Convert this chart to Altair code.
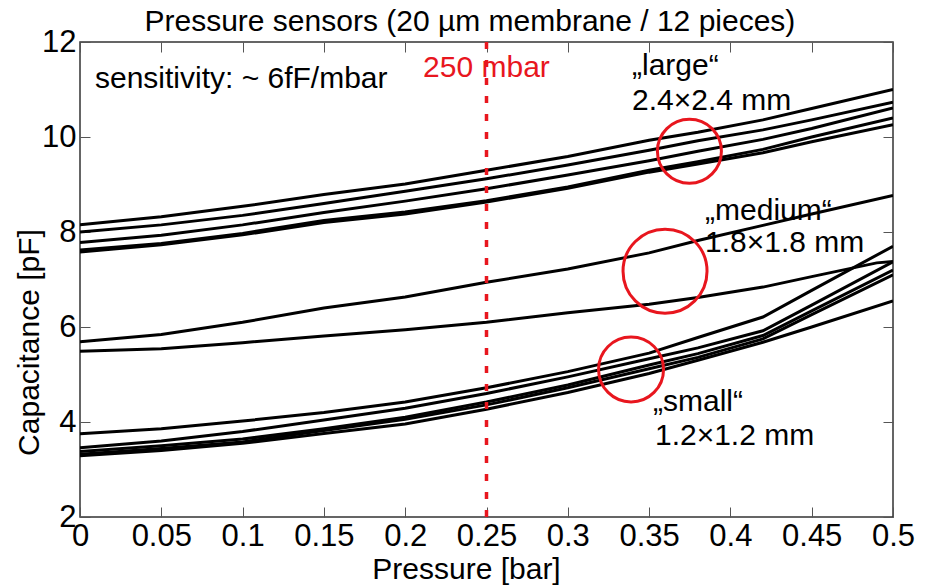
import altair as alt
import pandas as pd

# ---------------- data ----------------
pressure = [0, 0.05, 0.1, 0.15, 0.2, 0.25, 0.3, 0.35, 0.38, 0.42, 0.45, 0.5]

large_1 = [8.15, 8.32, 8.54, 8.79, 9.01, 9.30, 9.59, 9.93, 10.10, 10.36, 10.60, 11.00]
large_2 = [8.00, 8.15, 8.35, 8.60, 8.86, 9.12, 9.41, 9.72, 9.92, 10.15, 10.36, 10.73]
large_3 = [7.78, 7.93, 8.15, 8.41, 8.65, 8.91, 9.20, 9.50, 9.70, 9.95, 10.18, 10.61]
large_4 = [7.62, 7.76, 7.97, 8.24, 8.42, 8.66, 8.95, 9.30, 9.48, 9.74, 10.00, 10.40]
large_5 = [7.58, 7.73, 7.94, 8.20, 8.38, 8.63, 8.92, 9.26, 9.43, 9.67, 9.90, 10.26]

medium_1 = [5.69, 5.84, 6.10, 6.40, 6.63, 6.94, 7.22, 7.56, 7.82, 8.14, 8.38, 8.77]
medium_2_pressure = [0, 0.05, 0.1, 0.15, 0.2, 0.25, 0.3, 0.35, 0.38, 0.42, 0.45, 0.49, 0.5]
medium_2 = [5.49, 5.54, 5.67, 5.81, 5.94, 6.10, 6.30, 6.48, 6.62, 6.84, 7.06, 7.35, 7.38]

small_1 = [3.755, 3.86, 4.02, 4.20, 4.42, 4.72, 5.06, 5.45, 5.78, 6.21, 6.77, 7.70]
small_2 = [3.46, 3.60, 3.80, 4.04, 4.29, 4.60, 4.95, 5.33, 5.56, 5.92, 6.46, 7.37]
small_3 = [3.38, 3.50, 3.64, 3.86, 4.10, 4.42, 4.78, 5.20, 5.44, 5.82, 6.34, 7.20]
small_4 = [3.32, 3.44, 3.58, 3.82, 4.06, 4.36, 4.72, 5.12, 5.36, 5.75, 6.26, 7.10]
small_5 = [3.29, 3.40, 3.55, 3.76, 3.96, 4.27, 4.62, 5.02, 5.30, 5.68, 6.00, 6.55]

x_ticks = [0, 0.05, 0.1, 0.15, 0.2, 0.25, 0.3, 0.35, 0.4, 0.45, 0.5]
y_ticks = [2, 4, 6, 8, 10, 12]
x_domain = [0, 0.5]
y_domain = [2, 12]

title_text = ["Pressure sensors (20 \u00b5m membrane / 12 pieces)"]
title_p = [0.2398]
title_c = [12.238]

marker_p = [0.25]
marker_text = ["250 mbar"]
marker_text_p = [0.211]
marker_text_c = [11.27]

note_text = ["sensitivity: ~ 6fF/mbar"]
note_p = [0.0092]
note_c = [11.04]

group_text = ["\u201elarge\u201c", "2.4\u00d72.4 mm", "\u201emedium\u201c", "1.8\u00d71.8 mm",
              "\u201esmall\u201c", "1.2\u00d71.2 mm"]
group_p = [0.3395, 0.3395, 0.3844, 0.3844, 0.3524, 0.3536]
group_c = [11.31, 10.575, 8.26, 7.585, 4.24, 3.525]

circle_large = ([0.3748], [9.70])
circle_medium = ([0.3598], [7.175])
circle_small = ([0.3389], [5.107])

# ---------------- tables ----------------
rows = []
for name, vals in [("L1", large_1), ("L2", large_2), ("L3", large_3), ("L4", large_4),
                   ("L5", large_5), ("M1", medium_1), ("S1", small_1), ("S2", small_2),
                   ("S3", small_3), ("S4", small_4), ("S5", small_5)]:
    for p, c in zip(pressure, vals):
        rows.append({"curve": name, "p": p, "c": c})
for p, c in zip(medium_2_pressure, medium_2):
    rows.append({"curve": "M2", "p": p, "c": c})
curves = pd.DataFrame(rows)

marker_df = pd.DataFrame({"p": marker_p, "lo": [y_domain[0]], "hi": [y_domain[1]]})

RED = "#e8161e"
FONT = "Liberation Sans"
FS = 30
TICK_FS = 31

xscale = alt.Scale(domain=x_domain, nice=False, zero=False)
yscale = alt.Scale(domain=y_domain, nice=False, zero=False)

common_axis = dict(grid=False, domain=False, tickSize=10, offset=-10, tickColor="#555555",
                   tickWidth=1, labelFont=FONT, labelFontSize=TICK_FS, labelColor="black",
                   labelOverlap=False, labelFlush=False, titleFont=FONT, titleFontSize=FS,
                   titleFontWeight="normal", titleColor="black")

bottom_axis = alt.Axis(orient="bottom", values=x_ticks, format=".2~f", labelPadding=4,
                       title="Pressure [bar]", titleX=386, titleY=71,
                       titleBaseline="alphabetic", titleAlign="center", **common_axis)
left_axis = alt.Axis(orient="left", values=y_ticks, format="d", labelPadding=4,
                     title="Capacitance [pF]", titleX=-52, titleY=300, titleAngle=-90,
                     titleBaseline="alphabetic", titleAlign="center", **common_axis)
top_axis = alt.Axis(orient="top", values=x_ticks, labels=False, title=None, **common_axis)
right_axis = alt.Axis(orient="right", values=y_ticks, labels=False, title=None, **common_axis)

lines = alt.Chart(curves).mark_line(color="black", strokeWidth=3, clip=True).encode(
    x=alt.X("p:Q", scale=xscale, axis=bottom_axis),
    y=alt.Y("c:Q", scale=yscale, axis=left_axis),
    detail="curve:N",
    order="p:Q",
)

rule = alt.Chart(marker_df).mark_rule(color=RED, strokeWidth=3.5, strokeDash=[7, 11]).encode(
    x=alt.X("p:Q", scale=xscale, axis=top_axis),
    y=alt.Y("lo:Q", scale=yscale, axis=right_axis),
    y2="hi:Q",
)


def text_layer(texts, ps, cs, color, align="left", size=FS):
    df = pd.DataFrame({"t": texts, "p": ps, "c": cs})
    return alt.Chart(df).mark_text(font=FONT, fontSize=size, align=align, baseline="alphabetic",
                                   color=color).encode(
        x=alt.X("p:Q", scale=xscale, axis=None),
        y=alt.Y("c:Q", scale=yscale, axis=None),
        text="t:N",
    )


def circle_layer(center, size):
    df = pd.DataFrame({"p": center[0], "c": center[1]})
    return alt.Chart(df).mark_point(shape="circle", size=size, filled=False, color=RED,
                                    strokeWidth=3, opacity=1).encode(
        x=alt.X("p:Q", scale=xscale, axis=None),
        y=alt.Y("c:Q", scale=yscale, axis=None),
    )


chart = alt.layer(
    lines,
    rule,
    circle_layer(circle_large, 4096),
    circle_layer(circle_medium, 7056),
    circle_layer(circle_small, 4225),
    text_layer(note_text, note_p, note_c, "black"),
    text_layer(marker_text, marker_text_p, marker_text_c, RED),
    text_layer(group_text, group_p, group_c, "black"),
    text_layer(title_text, title_p, title_c, "black", align="center", size=30),
).resolve_axis(x="independent", y="independent").properties(
    width=813,
    height=475,
    autosize=alt.AutoSizeParams(type="none"),
    padding={"left": 72, "top": 34, "right": 33, "bottom": 70},
    background="white",
).configure_view(stroke="#333333", strokeWidth=1.5)

chart.save("out.html", embed_options={"renderer": "svg", "actions": False})
